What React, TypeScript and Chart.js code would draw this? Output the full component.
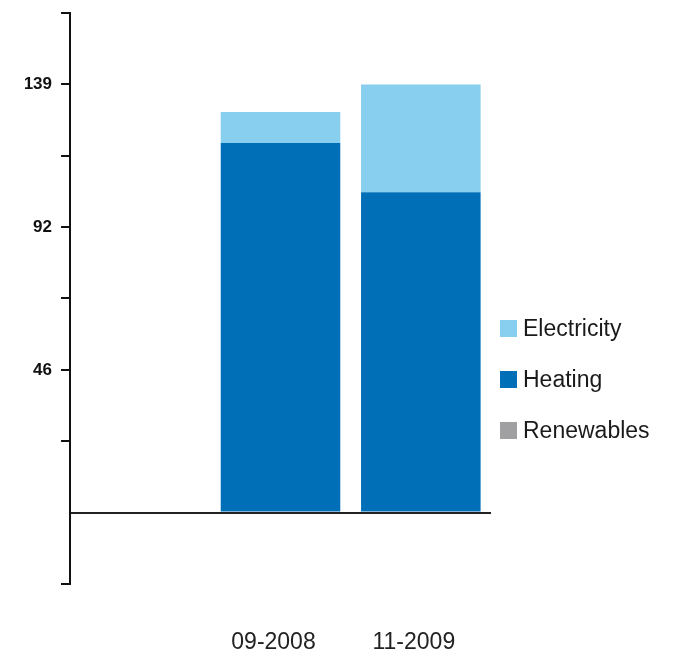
import React, { useEffect, useRef } from 'react';
import { Chart, registerables } from 'chart.js';

Chart.register(...registerables);

// ---- data ----
const categories = ['', '09-2008', '11-2009'];
const heating = [null, 120, 104];
const electricity = [null, 10, 35];
const renewables = [null, 0, 0];

const yTickValues = [-23.17, 0, 23.17, 46.33, 69.5, 92.67, 115.83, 139, 162.17];
const yTickLabels = ['', '', '', '46', '', '92', '', '139', ''];
const yMin = -23.17;
const yMax = 162.17;

const legendOrder = ['Electricity', 'Heating', 'Renewables'];

const COLORS: Record<string, string> = {
  Electricity: '#88CEEF',
  Heating: '#006FB7',
  Renewables: '#A0A0A2',
};

const FONT = "'Liberation Sans', Arial, Helvetica, sans-serif";

export default function App() {
  const canvasRef = useRef<HTMLCanvasElement | null>(null);

  useEffect(() => {
    if (!canvasRef.current) return;
    const chart = new Chart(canvasRef.current, {
      type: 'bar',
      data: {
        labels: categories,
        datasets: [
          { label: 'Heating', data: heating, backgroundColor: COLORS.Heating, borderWidth: 0 },
          { label: 'Electricity', data: electricity, backgroundColor: COLORS.Electricity, borderWidth: 0 },
          { label: 'Renewables', data: renewables, backgroundColor: COLORS.Renewables, borderWidth: 0 },
        ],
      },
      options: {
        animation: false,
        responsive: true,
        maintainAspectRatio: false,
        layout: { padding: { left: 25, top: 13, right: 186, bottom: 0 } },
        datasets: { bar: { barPercentage: 0.852, categoryPercentage: 1 } },
        plugins: { legend: { display: false }, tooltip: { enabled: false } },
        scales: {
          x: {
            stacked: true,
            grid: { display: false, drawTicks: false },
            border: { display: false },
            afterFit: (scale: any) => {
              scale.height = 73;
            },
            ticks: {
              font: { family: FONT, size: 23 },
              color: '#222',
              padding: 45,
              labelOffset: -7,
              autoSkip: false,
              maxRotation: 0,
            },
          },
          y: {
            stacked: true,
            min: yMin,
            max: yMax,
            afterBuildTicks: (scale: any) => {
              scale.ticks = yTickValues.map((v) => ({ value: v }));
            },
            afterFit: (scale: any) => {
              scale.width = 45;
              scale.paddingTop = 0;
              scale.paddingBottom = 0;
            },
            ticks: {
              autoSkip: false,
              callback: (_v: any, i: number) => yTickLabels[i],
              font: { family: FONT, size: 17, weight: 'bold' },
              color: '#111',
              padding: 9,
            },
            grid: {
              drawOnChartArea: true,
              color: (ctx: any) => (ctx.tick && ctx.tick.value === 0 ? '#222' : 'rgba(0,0,0,0)'),
              lineWidth: 2,
              tickColor: (ctx: any) => (ctx.tick && ctx.tick.value === 0 ? 'rgba(0,0,0,0)' : '#111'),
              tickLength: 9,
              tickWidth: 2,
            },
            border: { display: true, color: '#111', width: 2 },
          },
        },
      },
    });
    return () => chart.destroy();
  }, []);

  return (
    <div style={{ position: 'absolute', left: 0, top: 0, width: 677, height: 657, background: '#fff' }}>
      <canvas ref={canvasRef} />
      <div
        style={{
          position: 'absolute',
          left: 500,
          top: 315,
          display: 'flex',
          flexDirection: 'column',
          gap: 25,
          fontFamily: FONT,
          fontSize: 23,
          color: '#1a1a1a',
        }}
      >
        {legendOrder.map((name) => (
          <div key={name} style={{ display: 'flex', alignItems: 'center', height: 26, lineHeight: '26px' }}>
            <span style={{ display: 'inline-block', width: 17, height: 17, background: COLORS[name], marginRight: 6 }} />
            <span>{name}</span>
          </div>
        ))}
      </div>
    </div>
  );
}
